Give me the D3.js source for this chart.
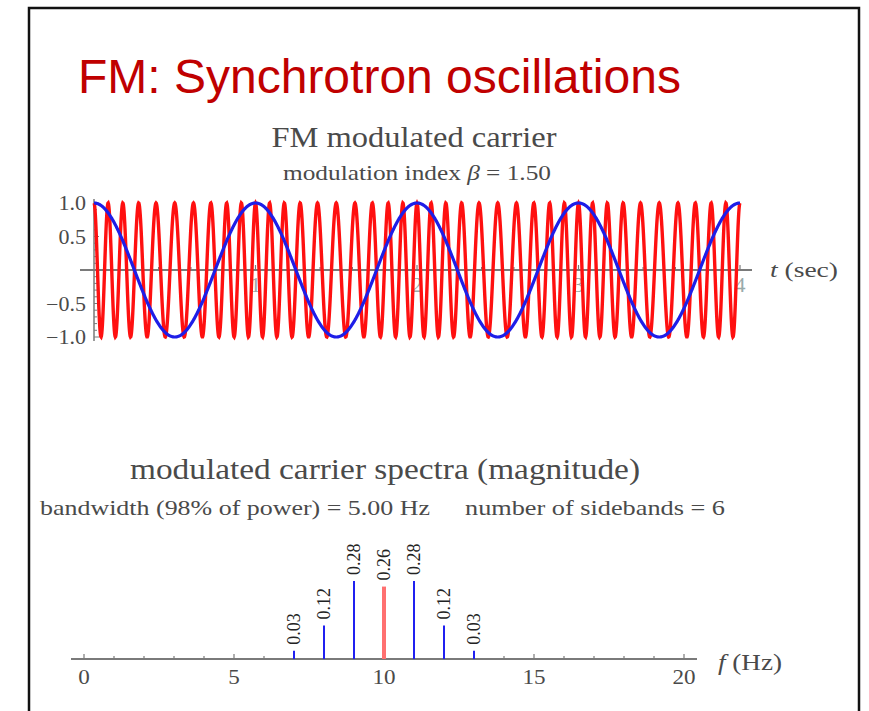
<!DOCTYPE html>
<html>
<head>
<meta charset="utf-8">
<script src="https://cdn.jsdelivr.net/npm/d3@7"></script>
<style>
  body { margin: 0; background: #fff; }
  svg { display: block; }
  .serif { font-family: "Liberation Serif", "Times New Roman", serif; }
</style>
</head>
<body>
<div id="chart"></div>
<script>
// FM signal parameters
var carrier_freq = 10;      // Hz
var mod_freq = 1;           // Hz
var mod_index = 1.5;        // beta
var t_range = [0, 4];
var t_ticks = [1, 2, 3, 4];
var y_ticks = [-1.0, -0.5, 0.5, 1.0];

// Spectrum lines
var spec_freqs = [7, 8, 9, 10, 11, 12, 13];
var spec_mags  = [0.03, 0.12, 0.28, 0.26, 0.28, 0.12, 0.03];
var spec_labels = ["0.03", "0.12", "0.28", "0.26", "0.28", "0.12", "0.03"];
var f_ticks = [0, 5, 10, 15, 20];

var W = 869, H = 711;
var svg = d3.select("#chart").append("svg")
    .attr("width", W).attr("height", H);

// the slide's graphic is a little wider than its font: stretch text to fit
function stretch(sel, k){
    sel.each(function(){
        var len = this.getComputedTextLength();
        d3.select(this).attr("textLength", len * k).attr("lengthAdjust", "spacingAndGlyphs");
    });
    return sel;
}

// slide frame
svg.append("path")
    .attr("d", "M29," + (H + 5) + " L29,8 L859,8 L859," + (H + 5))
    .attr("fill", "none").attr("stroke", "#111").attr("stroke-width", 2.5);

svg.append("text")
    .attr("x", 78).attr("y", 93)
    .attr("font-family", "'Liberation Sans', Arial, sans-serif")
    .attr("font-size", 48)
    .attr("fill", "#c00000")
    .text("FM: Synchrotron oscillations");

var textCol = "#4a4a4a";
var axisCol = "#7a7a7a";
var K = 1.1;

// ---- top plot ----
var x = d3.scaleLinear().domain(t_range).range([94, 740]);
var y = d3.scaleLinear().domain([-1, 1]).range([337, 203]);

var g_top = svg.append("g").attr("class", "serif");

g_top.append("text").attr("x", 414).attr("y", 147)
    .attr("text-anchor", "middle").attr("font-size", 29).attr("fill", textCol)
    .attr("textLength", 285).attr("lengthAdjust", "spacingAndGlyphs")
    .text("FM modulated carrier");
var sub = g_top.append("text").attr("x", 417).attr("y", 180)
    .attr("text-anchor", "middle").attr("font-size", 22).attr("fill", textCol)
    .attr("textLength", 268).attr("lengthAdjust", "spacingAndGlyphs");
sub.append("tspan").text("modulation index ");
sub.append("tspan").attr("font-style", "italic").text("β");
sub.append("tspan").text(" = " + d3.format(".2f")(mod_index));

// t tick labels (sit under the waves)
stretch(g_top.selectAll(".tl").data(t_ticks).enter().append("text")
    .attr("x", function(d){ return x(d); }).attr("y", y(0) + 22)
    .attr("text-anchor", "middle").attr("font-size", 20).attr("fill", "#9aa")
    .text(function(d){ return d; }), K);

// horizontal axis
g_top.append("line")
    .attr("x1", 80).attr("x2", 752).attr("y1", y(0)).attr("y2", y(0))
    .attr("stroke", axisCol).attr("stroke-width", 2);
g_top.selectAll(".tt").data(d3.range(1, 21)).enter().append("line")
    .attr("x1", function(d){ return x(d / 5); })
    .attr("x2", function(d){ return x(d / 5); })
    .attr("y1", y(0)).attr("y2", function(d){ return y(0) - (d % 5 == 0 ? 5 : 3); })
    .attr("stroke", axisCol).attr("stroke-width", 1.2);

// vertical axis on the left
g_top.append("line")
    .attr("x1", x(0)).attr("x2", x(0)).attr("y1", y(1.06)).attr("y2", y(-1.06))
    .attr("stroke", axisCol).attr("stroke-width", 1.5);
g_top.selectAll(".yt").data(d3.range(-10, 11)).enter().append("line")
    .attr("x1", x(0)).attr("x2", function(d){ return x(0) + (d % 5 == 0 ? 5 : 3); })
    .attr("y1", function(d){ return y(d / 10); }).attr("y2", function(d){ return y(d / 10); })
    .attr("stroke", axisCol).attr("stroke-width", 1);
stretch(g_top.selectAll(".yl").data(y_ticks).enter().append("text")
    .attr("x", 86).attr("y", function(d){ return y(d) + 7; })
    .attr("text-anchor", "end").attr("font-size", 20).attr("fill", textCol)
    .text(function(d){ return d3.format(".1f")(d).replace("-", "\u2212"); }), K);

// signals
var ts = d3.range(0, 2001).map(function(i){ return t_range[0] + (t_range[1] - t_range[0]) * i / 2000; });
var carrier = ts.map(function(t){
    return [t, Math.cos(2 * Math.PI * carrier_freq * t + mod_index * Math.sin(2 * Math.PI * mod_freq * t))];
});
var modulator = ts.map(function(t){ return [t, Math.cos(2 * Math.PI * mod_freq * t)]; });
var line = d3.line().x(function(d){ return x(d[0]); }).y(function(d){ return y(d[1]); });

g_top.append("path").datum(carrier).attr("d", line)
    .attr("fill", "none").attr("stroke", "#ff1010").attr("stroke-width", 3.4);
g_top.append("path").datum(modulator).attr("d", line)
    .attr("fill", "none").attr("stroke", "#1e1ee8").attr("stroke-width", 3.2);

var tl = g_top.append("text").attr("x", 770).attr("y", 277)
    .attr("font-size", 22).attr("fill", textCol)
    .attr("textLength", 68).attr("lengthAdjust", "spacingAndGlyphs");
tl.append("tspan").attr("font-style", "italic").text("t");
tl.append("tspan").text(" (sec)");

// ---- spectrum ----
var fx = d3.scaleLinear().domain([0, 20]).range([84, 684]);
var fy = d3.scaleLinear().domain([0, 0.28]).range([659, 581]);

var g_bot = svg.append("g").attr("class", "serif");

g_bot.append("text").attr("x", 385).attr("y", 479)
    .attr("text-anchor", "middle").attr("font-size", 29).attr("fill", textCol)
    .attr("textLength", 510).attr("lengthAdjust", "spacingAndGlyphs")
    .text("modulated carrier spectra (magnitude)");
g_bot.append("text").attr("x", 40).attr("y", 515)
    .attr("font-size", 22).attr("fill", textCol)
    .attr("textLength", 390).attr("lengthAdjust", "spacingAndGlyphs")
    .text("bandwidth (98% of power) = 5.00 Hz");
g_bot.append("text").attr("x", 465).attr("y", 515)
    .attr("font-size", 22).attr("fill", textCol)
    .attr("textLength", 260).attr("lengthAdjust", "spacingAndGlyphs")
    .text("number of sidebands = 6");

g_bot.append("line")
    .attr("x1", 71).attr("x2", 697).attr("y1", fy(0)).attr("y2", fy(0))
    .attr("stroke", axisCol).attr("stroke-width", 2);
g_bot.selectAll(".ft").data(d3.range(0, 21)).enter().append("line")
    .attr("x1", function(d){ return fx(d); }).attr("x2", function(d){ return fx(d); })
    .attr("y1", fy(0)).attr("y2", function(d){ return fy(0) - (d % 5 == 0 ? 5 : 3); })
    .attr("stroke", axisCol).attr("stroke-width", 1.2);
stretch(g_bot.selectAll(".fl").data(f_ticks).enter().append("text")
    .attr("x", function(d){ return fx(d); }).attr("y", 684)
    .attr("text-anchor", "middle").attr("font-size", 21).attr("fill", textCol)
    .text(function(d){ return d; }), K);

g_bot.selectAll(".bar").data(spec_freqs).enter().append("line")
    .attr("x1", function(d){ return fx(d); }).attr("x2", function(d){ return fx(d); })
    .attr("y1", fy(0))
    .attr("y2", function(d, i){ return fy(spec_mags[i]); })
    .attr("stroke", function(d){ return d == carrier_freq ? "#ff7070" : "#2020f0"; })
    .attr("stroke-width", function(d){ return d == carrier_freq ? 4 : 2; });

g_bot.selectAll(".bl").data(spec_freqs).enter().append("text")
    .attr("transform", function(d, i){
        return "translate(" + fx(d) + "," + (fy(spec_mags[i]) - 6) + ") rotate(-90)";
    })
    .attr("dy", "0.35em")
    .attr("font-size", 18).attr("fill", "#222")
    .text(function(d, i){ return spec_labels[i]; });

var fl = g_bot.append("text").attr("x", 718).attr("y", 670)
    .attr("font-size", 23).attr("fill", textCol)
    .attr("textLength", 64).attr("lengthAdjust", "spacingAndGlyphs");
fl.append("tspan").attr("font-style", "italic").text("f");
fl.append("tspan").text(" (Hz)");
</script>
</body>
</html>
